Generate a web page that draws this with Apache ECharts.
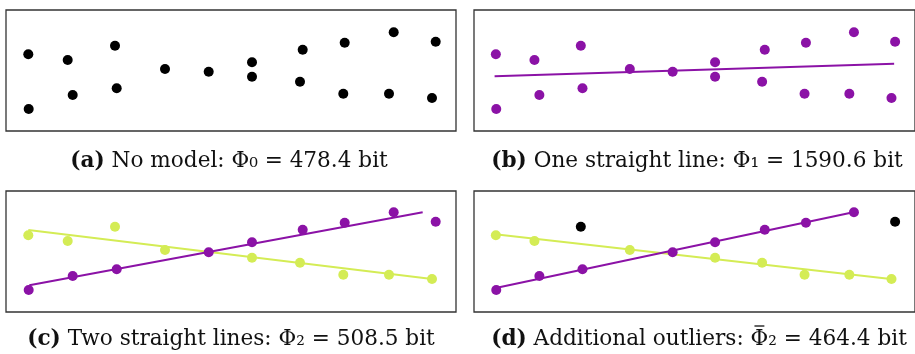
<!DOCTYPE html>
<html><head><meta charset="utf-8">
<script src="https://cdn.jsdelivr.net/npm/echarts@6/dist/echarts.min.js"></script>
<style>html,body{margin:0;padding:0;background:#fff}#c{width:915px;height:354px}</style>
</head><body><div id="c"></div>
<script>
// All points (x, y) in panel data units
const allPoints = [[22.3,76.7],[22.7,22],[61.7,71],[66.7,36],[109,85.3],[110.7,42.7],[159,62],[202.7,59.3],[246,68.7],[246,54.3],[296.7,81.3],[294,49.3],[338.7,88.3],[337.3,37.3],[387.7,98.7],[383,37.3],[429.7,89.3],[426,33]];
// Cluster assignment for (c)
const purplePts = [[22.7,22],[66.7,36],[110.7,42.7],[202.7,59.7],[246,69.7],[296.7,82.3],[338.7,89.3],[387.7,99.7],[429.7,90.3]];
const greenPts  = [[22.3,76.7],[61.7,71],[109,85.3],[159,62],[246,54.3],[294,49.3],[337.3,37.3],[383,37.3],[426,33]];
// (d): outliers removed from clusters
const purplePtsD = [[22.7,22],[66.7,36],[110.7,42.7],[202.7,59.7],[246,69.7],[296.7,82.3],[338.7,89.3],[387.7,99.7]];
const greenPtsD  = [[22.3,76.7],[61.7,71],[159,62],[246,54.3],[294,49.3],[337.3,37.3],[383,37.3],[426,33]];
const outliersD  = [[109,85.3],[429.7,90.3]];
// Fitted lines (endpoints)
const lineB  = [[21,54.7],[428.7,67.3]];
const lineCp = [[23.3,26.7],[416.7,99.7]];
const lineCg = [[22.3,82],[426,33]];
const lineDp = [[21,23.7],[387,99.7]];
const lineDg = [[19.3,78],[425.3,33]];
const captions = [
  ['(a)', ' No model: ', 'Φ₀', ' = 478.4 bit'],
  ['(b)', ' One straight line: ', 'Φ₁', ' = 1590.6 bit'],
  ['(c)', ' Two straight lines: ', 'Φ₂', ' = 508.5 bit'],
  ['(d)', ' Additional outliers: ', 'Φ₂', ' = 464.4 bit']
];
const barred = [false, false, false, true];

const PURPLE = '#8b12a6', GREEN = '#d4ec55', BLACK = '#000';
const FS = 21.6, FF = 'DejaVu Serif';
const grids = [
  {left:6, top:10, width:450, height:121},
  {left:474, top:10, width:450, height:121},
  {left:6, top:191, width:450, height:121},
  {left:474, top:191, width:450, height:121}
].map(g => Object.assign({show:true, borderColor:'#333', borderWidth:1.3, backgroundColor:'transparent'}, g));

const xAxis = grids.map((g,i)=>({type:'value', gridIndex:i, min:0, max:450, show:false}));
const yAxis = grids.map((g,i)=>({type:'value', gridIndex:i, min:0, max:121, show:false}));

function sc(i, data, color){ return {type:'scatter', xAxisIndex:i, yAxisIndex:i, data, symbolSize:10, itemStyle:{color, opacity:1}, z:3, silent:true}; }
function ln(i, data, color){ return {type:'line', xAxisIndex:i, yAxisIndex:i, data, symbol:'none', lineStyle:{color, width:2}, z:2, silent:true}; }

const series = [
  sc(0, allPoints, BLACK),
  sc(1, allPoints, PURPLE), ln(1, lineB, PURPLE),
  sc(2, purplePts, PURPLE), sc(2, greenPts, GREEN), ln(2, lineCg, GREEN), ln(2, lineCp, PURPLE),
  sc(3, purplePtsD, PURPLE), sc(3, greenPtsD, GREEN), sc(3, outliersD, BLACK), ln(3, lineDg, GREEN), ln(3, lineDp, PURPLE)
];

const ctx = document.createElement('canvas').getContext('2d');
function tw(t, bold){ ctx.font = (bold?'bold ':'') + FS + 'px "' + FF + '"'; return ctx.measureText(t).width; }

const capPos = [[229,161.5],[697,161.5],[231,339.5],[699,339.5]];
const graphic = [];
captions.forEach((c,i)=>{
  graphic.push({
    type:'text', x:capPos[i][0], y:capPos[i][1],
    style:{ text:'{b|'+c[0]+'}{n|'+c[1]+c[2]+c[3]+'}', align:'center', verticalAlign:'middle',
      rich:{ b:{fontFamily:FF, fontWeight:'bold', fontSize:FS, fill:'#111'},
             n:{fontFamily:FF, fontSize:FS, fill:'#111'} } }
  });
  if (barred[i]) {
    const total = tw(c[0], true) + tw(c[1]+c[2]+c[3]);
    const start = capPos[i][0] - total/2 + tw(c[0], true) + tw(c[1]);
    const pw = tw('Φ');
    graphic.push({type:'line', shape:{x1:start+pw*0.22, y1:capPos[i][1]-13.5, x2:start+pw*0.78, y2:capPos[i][1]-13.5},
      style:{stroke:'#111', lineWidth:1.3}});
  }
});

const chart = echarts.init(document.getElementById('c'), null, {renderer:'canvas'});
chart.setOption({animation:false, grid:grids, xAxis, yAxis, series, graphic});
</script></body></html>
